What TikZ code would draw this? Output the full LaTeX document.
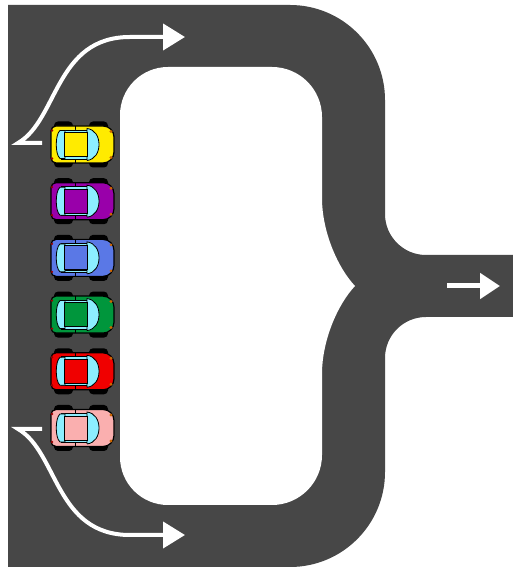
\documentclass[tikz,border=0pt]{standalone}
\usepackage{tikz}
\usetikzlibrary{arrows.meta}

\definecolor{road}{RGB}{71,71,71}
\definecolor{glass}{RGB}{140,238,255}
\definecolor{carYellow}{RGB}{255,235,0}
\definecolor{carPurple}{RGB}{153,0,170}
\definecolor{carBlue}{RGB}{90,120,230}
\definecolor{carGreen}{RGB}{0,150,60}
\definecolor{carRed}{RGB}{240,0,0}
\definecolor{carPink}{RGB}{250,175,175}

\tikzset{
  pics/car/.style={code={
    % wheels
    \fill[black,rounded corners=4pt] (-28,-23) rectangle (-9,23);
    \fill[black,rounded corners=4pt] (7,-23) rectangle (26,23);
    % body
    \draw[carline,fill=#1] (-26,18.5) -- (21,18.5) arc[start angle=90,end angle=0,radius=11pt]
      -- (32,-7.5) arc[start angle=0,end angle=-90,radius=11pt]
      -- (-26,-18.5) arc[start angle=270,end angle=180,radius=5pt]
      -- (-31,13.5) arc[start angle=180,end angle=90,radius=5pt] -- cycle;
    % lights
    \fill[orange!80!black] (29,13) circle[radius=1.6pt] (29,-13) circle[radius=1.6pt];
    \fill[red!60!black] (-30,14) circle[radius=1.3pt] (-30,-14) circle[radius=1.3pt];
    % door line and side glass
    \draw[line width=0.8pt] (-7,-18.5) -- (-7,18.5);
    \draw[fill=glass,line width=0.6pt] (-21,12) rectangle (6,14.5) (-21,-12) rectangle (6,-14.5);
    % rear window, windshield, roof
    \draw[fill=glass,line width=0.8pt] (-17,-14) -- (-22,-14) .. controls (-27,-10) and (-27,10) .. (-22,14) -- (-17,14) -- cycle;
    \draw[fill=glass,line width=0.8pt] (5,-16) -- (5,16) .. controls (13,15) and (17,8) .. (17,0) .. controls (17,-8) and (13,-15) .. (5,-16);
    \draw[fill=#1,line width=0.8pt] (-18,-12) rectangle (5,12);
  }}
}

\begin{document}
\begin{tikzpicture}[x=1pt,y=1pt,
  flow/.style={white,line width=4pt,-{Triangle[length=22pt,width=26pt]}},
  carline/.style={draw=black,line width=1.2pt}]
\fill[white] (0,0) rectangle (513,570);
\useasboundingbox (0,0) rectangle (513,570);
% road
\fill[road] (8,3) -- (8,565) -- (290,565) arc[start angle=90,end angle=0,radius=95pt]
  -- (385,356) arc[start angle=180,end angle=270,radius=41pt]
  -- (513,315) -- (513,253) -- (426,253) arc[start angle=90,end angle=180,radius=41pt]
  -- (385,98) arc[start angle=0,end angle=-90,radius=95pt] -- cycle;
% island
\fill[white] (168,503) -- (272,503) arc[start angle=90,end angle=0,radius=50pt]
  -- (322,372) .. controls (322,338) and (338,302) .. (355,284)
  .. controls (338,266) and (322,230) .. (322,196)
  -- (322,115) arc[start angle=0,end angle=-90,radius=50pt]
  -- (168,65) arc[start angle=270,end angle=180,radius=48pt]
  -- (120,455) arc[start angle=180,end angle=90,radius=48pt] -- cycle;
% lane arrows
\draw[flow] (42,427) -- (18,427) .. controls (58,450) and (55,533) .. (130,533) -- (185,533);
\draw[flow] (42,141) -- (18,141) .. controls (58,118) and (55,35) .. (130,35) -- (185,35);
\draw[flow,line width=5pt,-{Triangle[length=20pt,width=25pt]}] (447,284) -- (500,284);
% queue
\foreach \c [count=\i from 0] in {carYellow,carPurple,carBlue,carGreen,carRed,carPink}
  \pic at (82,{425.5-56.7*\i}) {car=\c};
\end{tikzpicture}
\end{document}
